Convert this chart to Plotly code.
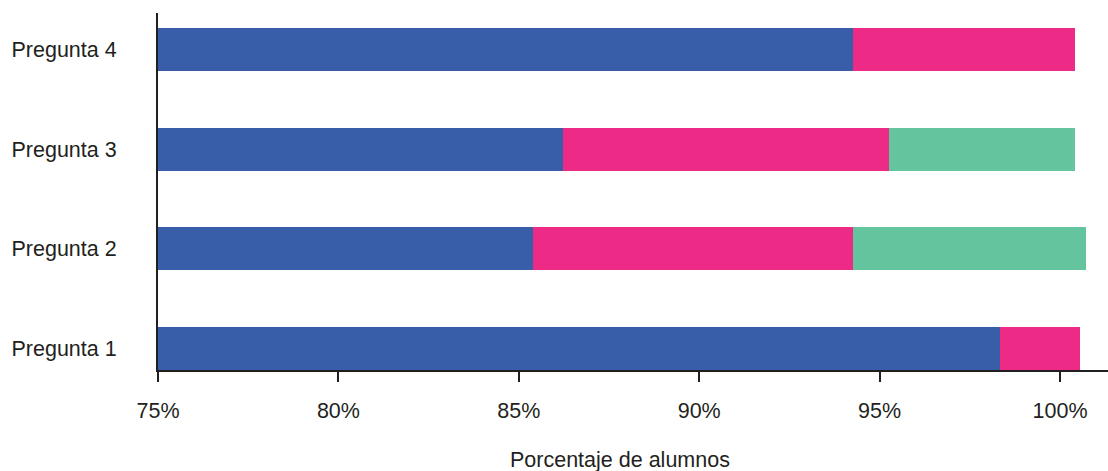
import plotly.graph_objects as go

categories = ["Pregunta 1", "Pregunta 2", "Pregunta 3", "Pregunta 4"]
blue_vals = [98.34, 85.39, 86.22, 94.26]
pink_vals = [2.21, 8.87, 9.04, 6.16]
green_vals = [0.0, 6.46, 5.16, 0.0]
tick_vals = [75, 80, 85, 90, 95, 100]
tick_text = ["75%", "80%", "85%", "90%", "95%", "100%"]
x_title = "Porcentaje de alumnos"

BLUE = "rgb(56,94,169)"
PINK = "rgb(238,42,135)"
GREEN = "rgb(99,196,157)"
INK = "#231f20"
FONT = "Liberation Sans, Arial, sans-serif"
FS = 21.5

fig = go.Figure()
for vals, col, name in [(blue_vals, BLUE, "a"), (pink_vals, PINK, "b"), (green_vals, GREEN, "c")]:
    fig.add_trace(go.Bar(y=categories, x=vals, orientation="h", marker=dict(color=col, line=dict(width=0)),
                         width=0.43, name=name, showlegend=False, hoverinfo="skip"))

fig.update_layout(
    barmode="stack",
    width=1108, height=471,
    margin=dict(l=158, r=0, t=13, b=101, autoexpand=False),
    paper_bgcolor="white", plot_bgcolor="white",
    font=dict(family=FONT, size=FS, color=INK),
    xaxis=dict(range=[75, 101.33], tickvals=tick_vals, ticktext=tick_text, automargin=False,
               showgrid=False, zeroline=False, showline=True, linecolor=INK, linewidth=2,
               ticks="outside", ticklen=10, tickwidth=2, tickcolor=INK,
               tickfont=dict(size=FS, color=INK), ticklabelstandoff=10),
    yaxis=dict(range=[-0.22, 3.37], showgrid=False, zeroline=False, showline=True, linecolor=INK, linewidth=2,
               automargin=False, ticks="", tickfont=dict(size=FS, color=INK), ticklabelstandoff=35),
    annotations=[dict(text=x_title, xref="paper", yref="paper", x=0.486, y=-0.252,
                      xanchor="center", yanchor="middle", showarrow=False,
                      font=dict(size=FS, color=INK))],
)
fig.write_html("out.html", config={"displayModeBar": False},
               post_script="document.body.style.margin='0';document.body.style.overflow='hidden';")
